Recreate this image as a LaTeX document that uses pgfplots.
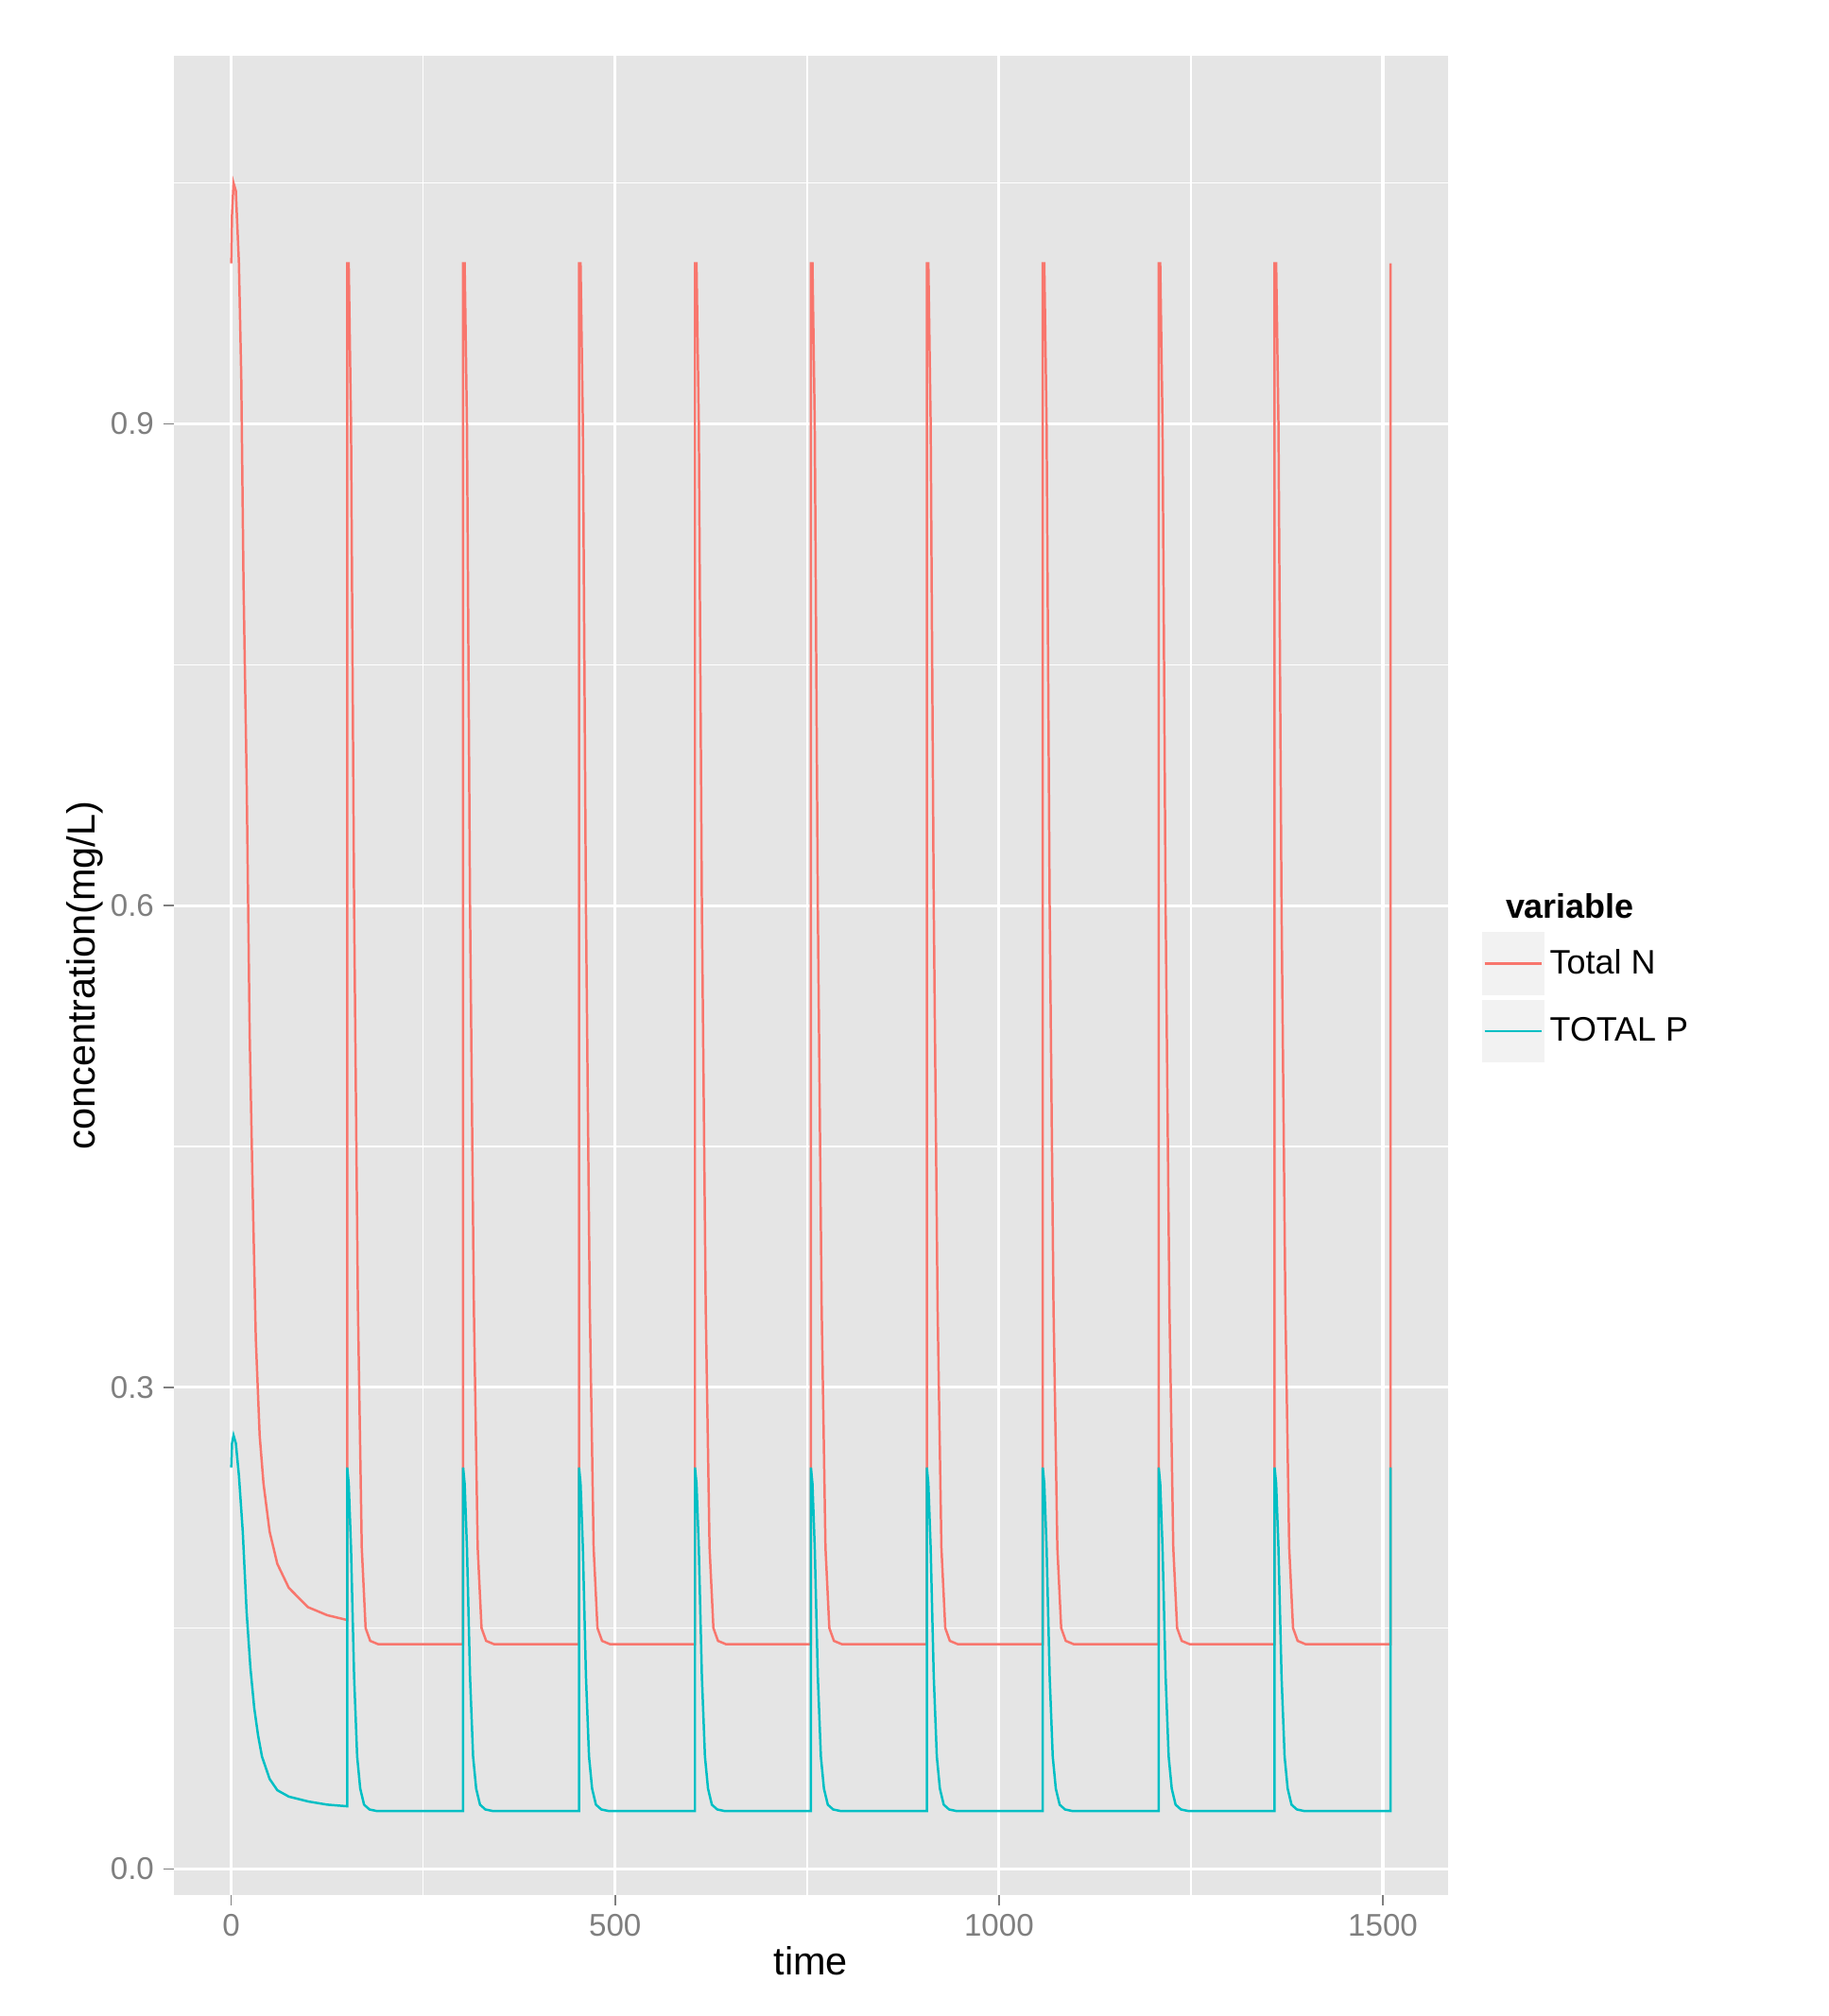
\documentclass[border=0pt]{standalone}
\usepackage{pgfplots}
\pgfplotsset{compat=1.18}
\usepackage{fontspec}
\setmainfont{Liberation Sans}
\definecolor{bgp}{HTML}{E5E5E5}
\definecolor{cn}{HTML}{F8766D}
\definecolor{cp}{HTML}{00BFC4}
\definecolor{tk}{HTML}{7F7F7F}
\definecolor{kb}{HTML}{F2F2F2}
\begin{document}
\begin{tikzpicture}[x=1pt,y=1pt]
\path[use as bounding box] (-66.5,-46.5) rectangle (633.5,725.5);
\begin{axis}[
  at={(0,0)}, anchor=south west,
  scale only axis, width=488pt, height=704pt,
  xmin=-75, xmax=1585, ymin=-0.016, ymax=1.129,
  axis background/.style={fill=bgp}, axis line style={draw=none},
  xtick={0,500,1000,1500}, ytick={0,0.3,0.6,0.9},
  minor xtick={250,750,1250}, minor ytick={0.15,0.45,0.75,1.05},
  xticklabel style={/pgf/number format/1000 sep={}},
  yticklabel style={/pgf/number format/fixed,/pgf/number format/precision=1,/pgf/number format/fixed zerofill},
  /pgf/number format/assume math mode=true,
  grid=both, major grid style={white,line width=1.1pt}, minor grid style={white,line width=0.5pt},
  tick style={tk,line width=0.6pt}, major tick length=4pt, minor tick length=0pt,
  tick align=outside, xtick pos=bottom, ytick pos=left,
  ticklabel style={font=\fontsize{12}{14}\selectfont, text=tk},
  xlabel={time}, ylabel={concentration(mg/L)},
  xlabel style={yshift=3pt}, ylabel style={yshift=-4pt},
  label style={font=\fontsize{15}{18}\selectfont},
  legend style={at={(1.02,0.5)},anchor=west,draw=none,fill=none,font=\fontsize{13}{16}\selectfont,row sep=2pt},
  legend cell align=left,
]
\addlegendimage{empty legend}\addlegendentry{\hspace{-1.3em}\textbf{variable}}
\addplot[cn,line width=0.9pt,legend image code/.code={\fill[kb,draw=none](0,-12pt) rectangle (24pt,12pt);\draw[cn,line width=0.9pt](1pt,0pt)--(23pt,0pt);}] coordinates {
(0,1.0)(1,1.03)(3,1.05)(6,1.045)(10,1.0)(13,0.93)(16,0.8)(20,0.68)(24,0.52)(28,0.42)(32,0.33)(37,0.27)(42,0.24)(50,0.21)(60,0.19)(75,0.175)(100,0.163)(125,0.158)(151,0.155)
(151,1.0)(153,1.0)(156,0.9)(160,0.6)(165,0.35)(170,0.2)(175,0.15)(181,0.142)(191,0.14)(302,0.14)
(302,1.0)(304,1.0)(307,0.9)(311,0.6)(316,0.35)(321,0.2)(326,0.15)(332,0.142)(342,0.14)(453,0.14)
(453,1.0)(455,1.0)(458,0.9)(462,0.6)(467,0.35)(472,0.2)(477,0.15)(483,0.142)(493,0.14)(604,0.14)
(604,1.0)(606,1.0)(609,0.9)(613,0.6)(618,0.35)(623,0.2)(628,0.15)(634,0.142)(644,0.14)(755,0.14)
(755,1.0)(757,1.0)(760,0.9)(764,0.6)(769,0.35)(774,0.2)(779,0.15)(785,0.142)(795,0.14)(906,0.14)
(906,1.0)(908,1.0)(911,0.9)(915,0.6)(920,0.35)(925,0.2)(930,0.15)(936,0.142)(946,0.14)(1057,0.14)
(1057,1.0)(1059,1.0)(1062,0.9)(1066,0.6)(1071,0.35)(1076,0.2)(1081,0.15)(1087,0.142)(1097,0.14)(1208,0.14)
(1208,1.0)(1210,1.0)(1213,0.9)(1217,0.6)(1222,0.35)(1227,0.2)(1232,0.15)(1238,0.142)(1248,0.14)(1359,0.14)
(1359,1.0)(1361,1.0)(1364,0.9)(1368,0.6)(1373,0.35)(1378,0.2)(1383,0.15)(1389,0.142)(1399,0.14)(1510,0.14)
(1510,1.0)};
\addlegendentry{Total N}
\addplot[cp,line width=0.9pt,legend image code/.code={\fill[kb,draw=none](0,-12pt) rectangle (24pt,12pt);\draw[cp,line width=0.9pt](1pt,0pt)--(23pt,0pt);}] coordinates {
(0,0.25)(1,0.265)(3,0.27)(6,0.265)(10,0.245)(15,0.21)(20,0.16)(25,0.125)(30,0.1)(35,0.083)(40,0.07)(50,0.056)(60,0.049)(75,0.045)(100,0.042)(125,0.040)(151,0.039)
(151,0.25)(153,0.24)(156,0.2)(160,0.12)(164,0.07)(168,0.05)(173,0.04)(180,0.037)(190,0.036)(302,0.036)
(302,0.25)(304,0.24)(307,0.2)(311,0.12)(315,0.07)(319,0.05)(324,0.04)(331,0.037)(341,0.036)(453,0.036)
(453,0.25)(455,0.24)(458,0.2)(462,0.12)(466,0.07)(470,0.05)(475,0.04)(482,0.037)(492,0.036)(604,0.036)
(604,0.25)(606,0.24)(609,0.2)(613,0.12)(617,0.07)(621,0.05)(626,0.04)(633,0.037)(643,0.036)(755,0.036)
(755,0.25)(757,0.24)(760,0.2)(764,0.12)(768,0.07)(772,0.05)(777,0.04)(784,0.037)(794,0.036)(906,0.036)
(906,0.25)(908,0.24)(911,0.2)(915,0.12)(919,0.07)(923,0.05)(928,0.04)(935,0.037)(945,0.036)(1057,0.036)
(1057,0.25)(1059,0.24)(1062,0.2)(1066,0.12)(1070,0.07)(1074,0.05)(1079,0.04)(1086,0.037)(1096,0.036)(1208,0.036)
(1208,0.25)(1210,0.24)(1213,0.2)(1217,0.12)(1221,0.07)(1225,0.05)(1230,0.04)(1237,0.037)(1247,0.036)(1359,0.036)
(1359,0.25)(1361,0.24)(1364,0.2)(1368,0.12)(1372,0.07)(1376,0.05)(1381,0.04)(1388,0.037)(1398,0.036)(1510,0.036)
(1510,0.25)};
\addlegendentry{TOTAL P}
\end{axis}
\end{tikzpicture}
\end{document}
